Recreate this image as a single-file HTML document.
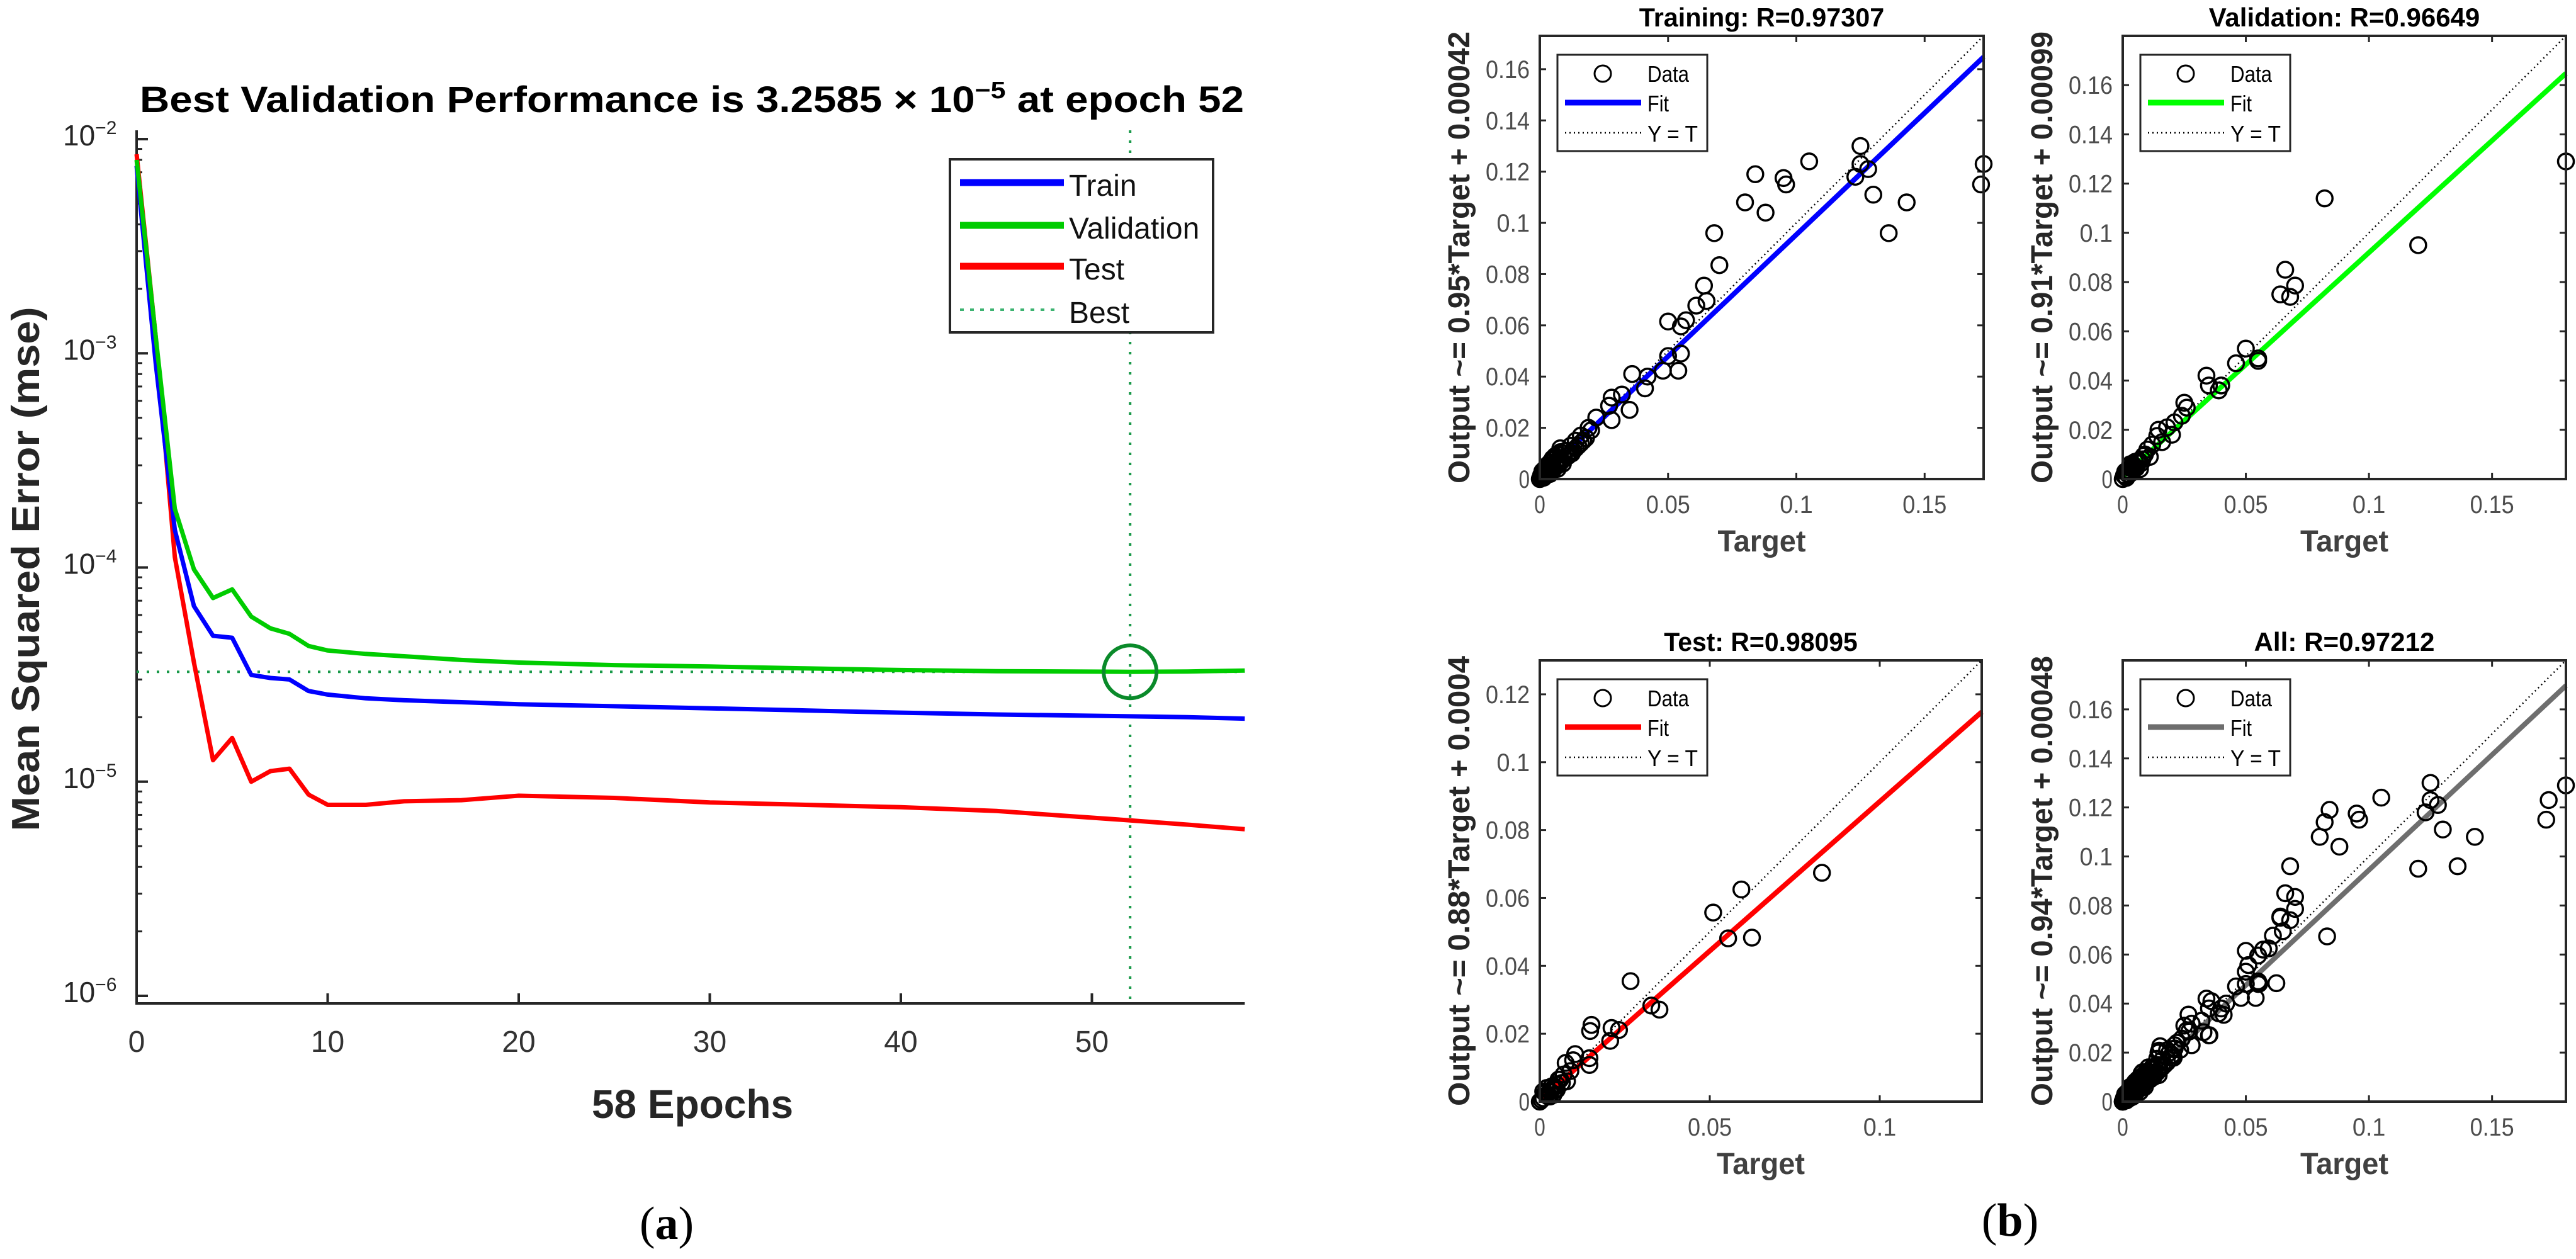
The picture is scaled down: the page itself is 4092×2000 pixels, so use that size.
<!DOCTYPE html>
<html><head><meta charset="utf-8">
<style>
html,body{margin:0;padding:0;background:#fff;}
svg{display:block;}
text{font-family:"Liberation Sans",Arial,sans-serif;}
</style></head>
<body>
<svg id="fig" width="4092" height="2000" viewBox="0 0 4092 2000" xmlns="http://www.w3.org/2000/svg">
<rect width="4092" height="2000" fill="#fff"/>
<g id="perf"></g>
<g id="reg"></g>
<text x="1059" y="1968" font-size="74" text-anchor="middle" style="font-family:'Liberation Serif',serif">(<tspan font-weight="bold">a</tspan>)</text>
<text x="3193" y="1963" font-size="74" text-anchor="middle" style="font-family:'Liberation Serif',serif">(<tspan font-weight="bold">b</tspan>)</text>
</svg>
<script>
// ---------- Performance chart data ----------
const epochs      = [0,1,2,3,4,5,6,7,8,9,10,12,14,17,20,25,30,35,40,45,52,55,58];
const trainMse    = [7.5e-3,9e-4,1.5e-4,6.6e-5,4.8e-5,4.7e-5,3.15e-5,3.05e-5,3.0e-5,2.65e-5,2.55e-5,2.45e-5,2.4e-5,2.35e-5,2.3e-5,2.25e-5,2.2e-5,2.15e-5,2.1e-5,2.06e-5,2.02e-5,2.0e-5,1.97e-5];
const valMse      = [8e-3,1.2e-3,1.88e-4,9.8e-5,7.2e-5,7.9e-5,5.9e-5,5.2e-5,4.9e-5,4.3e-5,4.1e-5,3.95e-5,3.85e-5,3.7e-5,3.6e-5,3.5e-5,3.45e-5,3.38e-5,3.32e-5,3.28e-5,3.2585e-5,3.27e-5,3.3e-5];
const testMse     = [8.5e-3,1.2e-3,1.12e-4,3.6e-5,1.26e-5,1.6e-5,1.0e-5,1.12e-5,1.15e-5,8.7e-6,7.8e-6,7.8e-6,8.1e-6,8.2e-6,8.6e-6,8.4e-6,8.0e-6,7.8e-6,7.6e-6,7.3e-6,6.6e-6,6.3e-6,6.0e-6];
const bestEpoch   = 52;
const bestVal     = 3.2585e-5;
const xTicks      = [0,10,20,30,40,50];
const yDecades    = [-2,-3,-4,-5,-6];

const NS="http://www.w3.org/2000/svg";
function mk(parent,tag,attrs,txt){const e=document.createElementNS(NS,tag);for(const k in attrs)e.setAttribute(k,attrs[k]);if(txt!==undefined)e.textContent=txt;parent.appendChild(e);return e;}

(function(){
  const g=document.getElementById('perf');
  const X0=217,XS=30.35,Y0=221,DEC=340.25,YB=1594,XR=X0+58*XS;
  const sx=e=>X0+e*XS;
  const sy=v=>Y0+(-2-Math.log10(v))*DEC;
  const t=mk(g,'text',{x:1099,y:178,'font-size':58,'font-weight':'bold','text-anchor':'middle',textLength:1754,lengthAdjust:'spacingAndGlyphs'});
  
  
  t.innerHTML='Best Validation Performance is 3.2585 × 10<tspan dy="-22" font-size="38">−5</tspan><tspan dy="22"> at epoch 52</tspan>';
  const yl=mk(g,'text',{x:0,y:0,'font-size':62,'font-weight':'bold','text-anchor':'middle',fill:'#262626',transform:'translate(62,904) rotate(-90)',textLength:833,lengthAdjust:'spacingAndGlyphs'},'Mean Squared Error  (mse)');
  
  
  const xl=mk(g,'text',{x:1100,y:1776,'font-size':64,'font-weight':'bold','text-anchor':'middle',fill:'#262626'},'58 Epochs');
  
  
  const ax=mk(g,'path',{d:`M${X0} 207 V${YB} H${XR}`,fill:'none',stroke:'#262626','stroke-width':4});
  
  
  xTicks.forEach(v=>{
    mk(g,'line',{x1:sx(v),x2:sx(v),y1:YB,y2:YB-16,stroke:'#262626','stroke-width':4});
    const l=mk(g,'text',{x:sx(v),y:1671,'font-size':48,'text-anchor':'middle',fill:'#333'},String(v));
    
    
  });
  yDecades.forEach(d=>{
    const y=Y0+(-2-d)*DEC;
    mk(g,'line',{x1:X0,x2:X0+18,y1:y,y2:y,stroke:'#262626','stroke-width':4});
    const l=mk(g,'text',{x:100,y:y+10,'font-size':46,'text-anchor':'start',fill:'#262626'});
    
    
    l.innerHTML='10<tspan dy="-18" font-size="30">−'+(-d)+'</tspan>';
    if(d>-6){for(let m=2;m<=9;m++){const v=Math.pow(10,d-1)*m;const yy=sy(v);mk(g,'line',{x1:X0,x2:X0+9,y1:yy,y2:yy,stroke:'#262626','stroke-width':3});}}
  });
  const bv=mk(g,'line',{x1:sx(bestEpoch),x2:sx(bestEpoch),y1:207,y2:YB,stroke:'#1a9a4a','stroke-width':4,'stroke-dasharray':'4 12'});
  
  
  const bh=mk(g,'line',{x1:X0,x2:XR,y1:sy(bestVal),y2:sy(bestVal),stroke:'#1a9a4a','stroke-width':4,'stroke-dasharray':'4 12'});
  
  
  function series(arr,col,name){
    const d=arr.map((v,i)=>(i?'L':'M')+sx(epochs[i]).toFixed(1)+' '+sy(v).toFixed(1)).join(' ');
    const p=mk(g,'path',{d:d,fill:'none',stroke:col,'stroke-width':7,'stroke-linejoin':'round'});
    
    
  }
  series(testMse,'#ff0000','test-line');
  series(trainMse,'#0000ff','train-line');
  series(valMse,'#00cc00','validation-line');
  const c=mk(g,'circle',{cx:sx(bestEpoch),cy:sy(bestVal),r:42,fill:'none',stroke:'#0a8a2a','stroke-width':6});
  
  
  const lg=mk(g,'g',{});
  
  
  mk(lg,'rect',{x:1509,y:253,width:418,height:275,fill:'#fff',stroke:'#262626','stroke-width':4});
  [['Train','#0000ff',290,0],['Validation','#00cc00',358,0],['Test','#ff0000',423,0],['Best','#3cb371',492,1]].forEach(e=>{
    const ent=mk(lg,'g',{});
    
    
    mk(ent,'line',e[3]?{x1:1525,x2:1680,y1:e[2],y2:e[2],stroke:e[1],'stroke-width':4,'stroke-dasharray':'6 10'}:{x1:1525,x2:1690,y1:e[2],y2:e[2],stroke:e[1],'stroke-width':11});
    mk(ent,'text',{x:1698,y:e[2]+21,'font-size':48,fill:'#111'},e[0]);
  });
})();

// ---------- Regression data ----------
const trainT=[0.125,0.125,0.123,0.128,0.130,0.143,0.136,0.173,0.172,0.105,0.084,0.095,0.096,0.080,0.088,0.068,0.070,0.064,0.065,0.061,0.057,0.050,0.055,0.055,0.050,0.054,0.048,0.042,0.036,0.041,0.035,0.032,0.028,0.027,0.028,0.022,0.019,0.016,0.014,0.012,0.010,0.009,0.008,0.007,0.006,0.005,0.004,0.003,0.002,0.001,0.003,0.006,0.008,0.011,0.013,0.004,0.002,0.001,0.0005,0.009,0.007,0.005,0.018,0.020,0.015,
  0.0015,0.0025,0.0035,0.0045,0.0055,0.0065,0.0075,0.0085,0.0095,0.0105,0.0115,0.0125,0.001,0.002,0.003,0.004,0.005,0.006,0.007,0.008,0.0,0.0005,0.0015,0.0025,0.0035,0.012,0.014,0.016,0.017];
const trainO=[0.130,0.123,0.118,0.121,0.111,0.108,0.096,0.123,0.115,0.124,0.119,0.1175,0.115,0.108,0.104,0.096,0.0835,0.0755,0.0695,0.0677,0.062,0.0615,0.0596,0.049,0.048,0.0423,0.0423,0.040,0.041,0.0354,0.027,0.033,0.0318,0.0286,0.023,0.024,0.020,0.017,0.015,0.013,0.011,0.010,0.008,0.0075,0.006,0.005,0.004,0.003,0.002,0.001,0.005,0.009,0.012,0.009,0.011,0.002,0.004,0.002,0.0005,0.006,0.004,0.008,0.016,0.019,0.013,
  0.0005,0.0015,0.0025,0.003,0.004,0.005,0.006,0.007,0.008,0.009,0.0095,0.010,0.003,0.004,0.0055,0.0065,0.0075,0.0085,0.0095,0.0105,0.0,0.0015,0.0025,0.0035,0.0045,0.010,0.012,0.014,0.015];
const valT=[0.180,0.082,0.120,0.066,0.070,0.064,0.068,0.050,0.055,0.055,0.046,0.034,0.035,0.039,0.040,0.025,0.026,0.024,0.021,0.018,0.0145,0.014,0.012,0.010,0.009,0.008,0.006,0.005,0.004,0.003,0.002,0.001,0.007,0.003,0.011,0.016,0.020,
  0.0005,0.0015,0.0025,0.0035,0.0045,0.0055,0.0065,0.0075,0.0085,0.001,0.002,0.003,0.004,0.005,0.0];
const valO=[0.129,0.114,0.095,0.085,0.0786,0.075,0.074,0.053,0.049,0.048,0.047,0.042,0.038,0.036,0.038,0.031,0.029,0.0257,0.023,0.021,0.020,0.0175,0.014,0.012,0.010,0.008,0.007,0.005,0.004,0.003,0.002,0.001,0.004,0.006,0.009,0.015,0.018,
  0.0015,0.0005,0.0035,0.0025,0.0055,0.0045,0.0075,0.0065,0.0095,0.003,0.0035,0.0045,0.006,0.007,0.0];
const testT=[0.083,0.0593,0.051,0.0554,0.0624,0.0267,0.0328,0.0352,0.0152,0.0148,0.0211,0.0233,0.0207,0.0146,0.0146,0.0104,0.0098,0.0076,0.007,0.006,0.005,0.004,0.003,0.002,0.001,0.004,0.002,0.008,0.009,0.0005,
  0.0015,0.0025,0.0035,0.0045,0.0055,0.0065,0.0,0.001,0.003,0.005];
const testO=[0.0674,0.0625,0.0557,0.0481,0.0483,0.0355,0.0283,0.0271,0.0226,0.0208,0.0217,0.0211,0.0179,0.0128,0.0108,0.014,0.0122,0.0114,0.008,0.0065,0.005,0.004,0.003,0.002,0.001,0.002,0.004,0.006,0.009,0.0005,
  0.0025,0.0015,0.0045,0.0035,0.0065,0.0055,0.0,0.003,0.0015,0.0035];
const panelTitles=['Training: R=0.97307','Validation: R=0.96649','Test: R=0.98095','All: R=0.97212'];
const fitSlopes=[0.95,0.91,0.88,0.94];
const fitIntercepts=[0.00042,0.00099,0.0004,0.00048];
const yLabels=['Output ~= 0.95*Target + 0.00042','Output ~= 0.91*Target + 0.00099','Output ~= 0.88*Target + 0.0004','Output ~= 0.94*Target + 0.00048'];
const axisMax=[0.173,0.180,0.130,0.180];
const yTickVals=[[0,0.02,0.04,0.06,0.08,0.1,0.12,0.14,0.16],[0,0.02,0.04,0.06,0.08,0.1,0.12,0.14,0.16],[0,0.02,0.04,0.06,0.08,0.1,0.12],[0,0.02,0.04,0.06,0.08,0.1,0.12,0.14,0.16]];
const xTickVals=[[0,0.05,0.1,0.15],[0,0.05,0.1,0.15],[0,0.05,0.1],[0,0.05,0.1,0.15]];
const fitColors=['#0000ff','#00ff00','#ff0000','#6e6e6e'];

(function(){
  const root=document.getElementById('reg');
  const boxes=[[2446,57,3151,761],[3372,57,4076,761],[2446,1049,3148,1750],[3372,1049,4076,1750]];
  const allT=trainT.concat(valT,testT), allO=trainO.concat(valO,testO);
  const dataT=[trainT,valT,testT,allT], dataO=[trainO,valO,testO,allO];
  const names=['training','validation','test','all'];
  boxes.forEach((b,i)=>{
    const [L,T,R,B]=b, M=axisMax[i];
    const sx=v=>L+v/M*(R-L), sy=v=>B-v/M*(B-T);
    const g=mk(root,'g',{});
    
    
    const ti=mk(g,'text',{x:(L+R)/2,y:T-15,'font-size':42,'font-weight':'bold','text-anchor':'middle',fill:'#000',textLength:panelTitles[i].length*20.5,lengthAdjust:'spacingAndGlyphs'},panelTitles[i]);
    
    
    const yl=mk(g,'text',{x:0,y:0,'font-size':48,'font-weight':'bold','text-anchor':'middle',fill:'#262626',transform:`translate(${L-112},${(T+B)/2}) rotate(-90)`,textLength:(B-T)+14,lengthAdjust:'spacingAndGlyphs'},yLabels[i]);
    
    
    const xl=mk(g,'text',{x:(L+R)/2,y:B+115,'font-size':48,'font-weight':'bold','text-anchor':'middle',fill:'#404040',textLength:140,lengthAdjust:'spacingAndGlyphs'},'Target');
    
    
    yTickVals[i].forEach(v=>{
      const y=sy(v);
      mk(g,'line',{x1:L,x2:L+10,y1:y,y2:y,stroke:'#262626','stroke-width':3});
      mk(g,'line',{x1:R,x2:R-10,y1:y,y2:y,stroke:'#262626','stroke-width':3});
      const l=mk(g,'text',{x:L-16,y:y+14,'font-size':40,'text-anchor':'end',fill:'#4d4d4d',textLength:String(v).length*17.5,lengthAdjust:'spacingAndGlyphs'},String(v));
      
      
    });
    xTickVals[i].forEach(v=>{
      const x=sx(v);
      mk(g,'line',{x1:x,x2:x,y1:B,y2:B-10,stroke:'#262626','stroke-width':3});
      mk(g,'line',{x1:x,x2:x,y1:T,y2:T+10,stroke:'#262626','stroke-width':3});
      const l=mk(g,'text',{x:x,y:B+54,'font-size':40,'text-anchor':'middle',fill:'#4d4d4d',textLength:String(v).length*17.5,lengthAdjust:'spacingAndGlyphs'},String(v));
      
      
    });
    const yt=mk(g,'line',{x1:sx(0),y1:sy(0),x2:sx(M),y2:sy(M),stroke:'#000','stroke-width':2.5,'stroke-dasharray':'2 5'});
    
    
    const f=mk(g,'line',{x1:sx(0),y1:sy(fitIntercepts[i]),x2:sx(M),y2:sy(fitSlopes[i]*M+fitIntercepts[i]),stroke:fitColors[i],'stroke-width':8});
    
    
    dataT[i].forEach((t,k)=>{
      const c=mk(g,'circle',{cx:sx(t),cy:sy(dataO[i][k]),r:12.5,fill:'none',stroke:'#000','stroke-width':3.5});
      
      
    });
    const box=mk(g,'rect',{x:L,y:T,width:R-L,height:B-T,fill:'none',stroke:'#262626','stroke-width':4});
    
    
    const lg=mk(g,'g',{});
    
    
    const ly=T+30;
    mk(lg,'rect',{x:L+28,y:ly,width:238,height:153,fill:'#fff',stroke:'#262626','stroke-width':3});
    mk(lg,'circle',{cx:L+100,cy:ly+30,r:13,fill:'none',stroke:'#000','stroke-width':3});
    mk(lg,'text',{x:L+171,y:ly+43,'font-size':36,fill:'#000',textLength:66,lengthAdjust:'spacingAndGlyphs'},'Data');
    mk(lg,'line',{x1:L+40,x2:L+161,y1:ly+76,y2:ly+76,stroke:fitColors[i],'stroke-width':9});
    mk(lg,'text',{x:L+171,y:ly+90,'font-size':36,fill:'#000',textLength:34,lengthAdjust:'spacingAndGlyphs'},'Fit');
    mk(lg,'line',{x1:L+40,x2:L+161,y1:ly+124,y2:ly+124,stroke:'#000','stroke-width':2.5,'stroke-dasharray':'2 5'});
    mk(lg,'text',{x:L+171,y:ly+138,'font-size':36,fill:'#000',textLength:80,lengthAdjust:'spacingAndGlyphs'},'Y = T');
  });
})();
</script>
</body></html>
